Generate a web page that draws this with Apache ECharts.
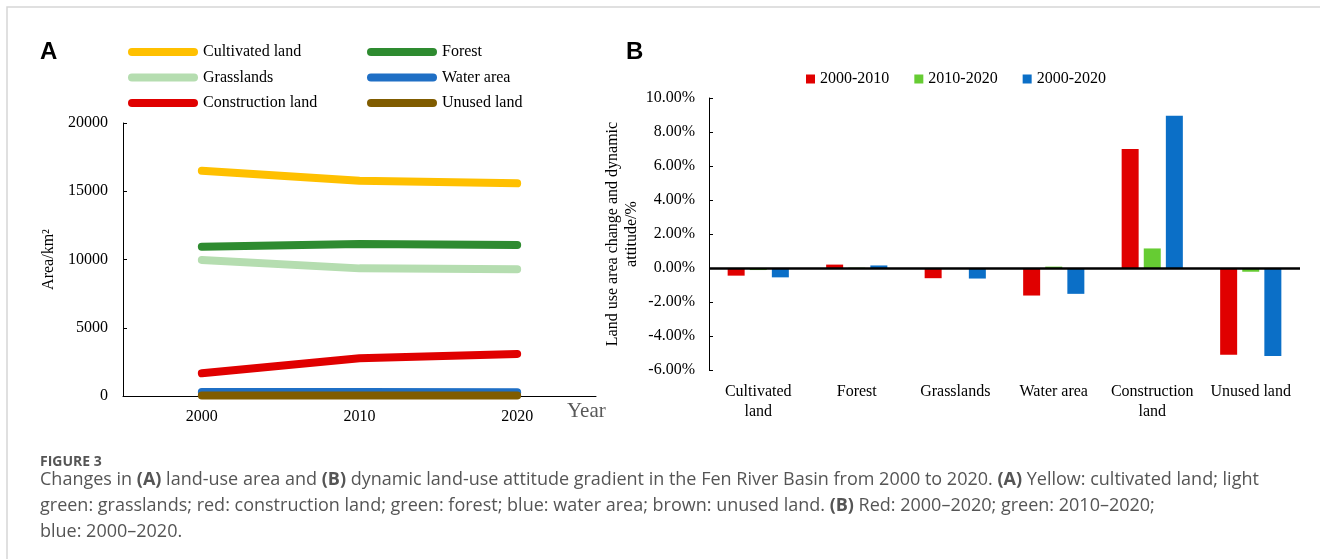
<!DOCTYPE html>
<html>
<head>
<meta charset="utf-8">
<script src="https://cdn.jsdelivr.net/npm/echarts@6/dist/echarts.min.js"></script>
<style>
  html, body { margin: 0; padding: 0; background: #fff; }
  #main { width: 1320px; height: 559px; }
</style>
</head>
<body>
<div id="main"></div>
<script>
// panel A: land-use area (km2)
const years = ['2000', '2010', '2020'];
const cultivated = [16500, 15770, 15580];
const forest = [10940, 11130, 11060];
const grasslands = [9960, 9350, 9280];
const waterArea = [290, 290, 280];
const construction = [1660, 2760, 3080];
const unused = [40, 40, 35];

// panel B: dynamic attitude (%)
const landTypes = ['Cultivated\nland', 'Forest', 'Grasslands', 'Water area', 'Construction\nland', 'Unused land'];
const d2000_2010 = [-0.45, 0.2, -0.6, -1.62, 7.0, -5.1];
const d2010_2020 = [-0.12, 0.02, -0.03, 0.08, 1.15, -0.22];
const d2000_2020 = [-0.55, 0.15, -0.62, -1.52, 8.95, -5.18];
const pctTicks = { min: -6, max: 10, step: 2 };

const serif = "'Liberation Serif', 'Times New Roman', serif";
const sans = "'Open Sans', sans-serif";
const black = '#000';
const capGrey = '#555';

let chart = echarts.init(document.getElementById('main'));

function lineSeries(name, data, color) {
    return {
        name: name, type: 'line', data: data,
        xAxisIndex: 0, yAxisIndex: 0,
        symbol: 'none', color: color,
        lineStyle: { width: 8, color: color, cap: 'round', join: 'round' },
        emphasis: { disabled: true }
    };
}
function barSeries(name, data, color) {
    return {
        name: name, type: 'bar', data: data,
        xAxisIndex: 1, yAxisIndex: 1,
        color: color, barWidth: 17, barGap: '30%',
        emphasis: { disabled: true }
    };
}

let lineIcon = 'path://M4,0 L66,0 A4,4 0 0 1 66,8 L4,8 A4,4 0 0 1 4,0 Z';
let legendCommon = {
    orient: 'vertical', itemWidth: 70, itemHeight: 8, itemGap: 7.5,
    icon: lineIcon, selectedMode: false,
    textStyle: { fontFamily: serif, fontSize: 16, color: black, lineHeight: 18 }
};

let barB = barSeries('2000-2010', d2000_2010, '#e00000');
barB.markLine = {
    silent: true, symbol: 'none', label: { show: false },
    lineStyle: { color: black, width: 2.5, type: 'solid' },
    data: [{ yAxis: 0 }]
};

let rich = { b: { fontWeight: 'bold', fontFamily: sans, fontSize: 18, fill: capGrey } };

let option = {
    backgroundColor: '#fff',
    animation: false,
    textStyle: { fontFamily: serif },
    grid: [
        { left: 123, right: 724, top: 123, bottom: 163 },
        { left: 709, right: 20, top: 98, bottom: 189 }
    ],
    legend: [
        Object.assign({}, legendCommon, { left: 123, top: 38, data: ['Cultivated land', 'Grasslands', 'Construction land'] }),
        Object.assign({}, legendCommon, { left: 362, top: 38, data: ['Forest', 'Water area', 'Unused land'] }),
        {
            left: 801, top: 66, itemWidth: 9, itemHeight: 9, itemGap: 25, icon: 'rect',
            selectedMode: false,
            textStyle: { fontFamily: serif, fontSize: 16, color: black },
            data: ['2000-2010', '2010-2020', '2000-2020']
        }
    ],
    xAxis: [
        {
            gridIndex: 0, type: 'category', data: years, boundaryGap: true,
            name: 'Year', nameLocation: 'end', nameGap: -29,
            nameTextStyle: { fontFamily: serif, fontSize: 21, color: '#595959', verticalAlign: 'top', padding: [5, 0, 0, 0] },
            axisLine: { lineStyle: { color: black, width: 1 } },
            axisTick: { show: false },
            axisLabel: { fontFamily: serif, fontSize: 16, color: black, margin: 13 }
        },
        {
            gridIndex: 1, type: 'category', data: landTypes, position: 'bottom',
            axisLine: { show: false, onZero: false },
            axisTick: { show: false },
            axisLabel: { fontFamily: serif, fontSize: 16, color: black, margin: 12, lineHeight: 20, interval: 0 }
        }
    ],
    yAxis: [
        {
            gridIndex: 0, type: 'value', min: 0, max: 20000, interval: 5000,
            name: 'Area/km\u00b2', nameLocation: 'middle', nameGap: 66,
            nameTextStyle: { fontFamily: serif, fontSize: 16, color: black },
            axisLine: { show: true, lineStyle: { color: black, width: 1 } },
            axisTick: { show: true, inside: true, length: 4, lineStyle: { color: black } },
            axisLabel: {
                fontFamily: serif, fontSize: 16, color: black, margin: 15,
                formatter: function (v) { return String(v); }
            },
            splitLine: { show: false }
        },
        {
            gridIndex: 1, type: 'value', min: pctTicks.min, max: pctTicks.max, interval: pctTicks.step,
            name: 'Land use area change and dynamic\nattitude/%', nameLocation: 'middle', nameGap: 68,
            nameTextStyle: { fontFamily: serif, fontSize: 16, color: black, lineHeight: 19 },
            axisLine: { show: true, lineStyle: { color: black, width: 1 } },
            axisTick: { show: true, inside: true, length: 4, lineStyle: { color: black } },
            axisLabel: {
                fontFamily: serif, fontSize: 16, color: black, margin: 14,
                formatter: function (v) { return v.toFixed(2) + '%'; }
            },
            splitLine: { show: false }
        }
    ],
    series: [
        lineSeries('Cultivated land', cultivated, '#ffc000'),
        lineSeries('Grasslands', grasslands, '#b5ddb0'),
        lineSeries('Construction land', construction, '#e00000'),
        lineSeries('Forest', forest, '#2e8b30'),
        lineSeries('Water area', waterArea, '#1f6fc5'),
        lineSeries('Unused land', unused, '#805c00'),
        barB,
        barSeries('2010-2020', d2010_2020, '#66cc33'),
        barSeries('2000-2020', d2000_2020, '#0b6fc7')
    ],
    graphic: [
        {
            type: 'rect', silent: true, z: -1,
            shape: { x: 7, y: 7, width: 1400, height: 600 },
            style: { fill: 'none', stroke: '#d6d6d6', lineWidth: 1.5 }
        },
        {
            type: 'text', left: 40, top: 40,
            style: { text: 'A', font: "bold 24px 'Liberation Sans'", fill: black }
        },
        {
            type: 'text', left: 626, top: 40,
            style: { text: 'B', font: "bold 24px 'Liberation Sans'", fill: black }
        },
        {
            type: 'text', left: 40, top: 455,
            style: { text: 'FIGURE 3', font: "bold 14px 'Open Sans'", fill: capGrey }
        },
        {
            type: 'text', left: 40, top: 471,
            style: {
                text: 'Changes in {b|(A)} land-use area and {b|(B)} dynamic land-use attitude gradient in the Fen River Basin from 2000 to 2020. {b|(A)} Yellow: cultivated land; light',
                font: "18px 'Open Sans'", fill: capGrey, rich: rich
            }
        },
        {
            type: 'text', left: 40, top: 497,
            style: {
                text: 'green: grasslands; red: construction land; green: forest; blue: water area; brown: unused land. {b|(B)} Red: 2000\u20132020; green: 2010\u20132020;',
                font: "18px 'Open Sans'", fill: capGrey, rich: rich
            }
        },
        {
            type: 'text', left: 40, top: 523,
            style: { text: 'blue: 2000\u20132020.', font: "18px 'Open Sans'", fill: capGrey }
        }
    ]
};

chart.setOption(option);
</script>
</body>
</html>
